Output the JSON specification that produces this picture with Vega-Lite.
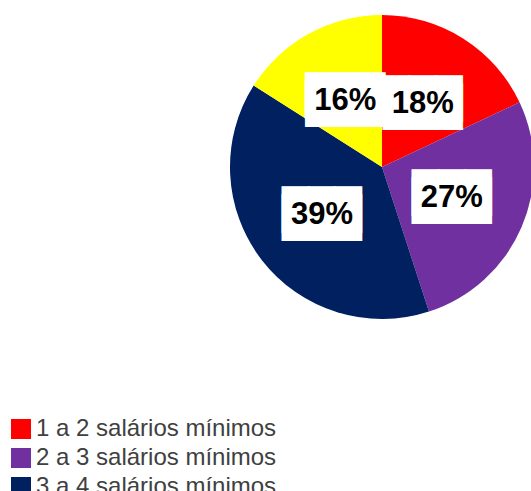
{
  "$schema": "https://vega.github.io/schema/vega-lite/v6.json",
  "width": 304,
  "height": 304,
  "autosize": {"type": "none"},
  "padding": {"left": 230, "top": 15, "right": 0, "bottom": 172},
  "background": "white",
  "config": {"view": {"stroke": null}},
  "data": {
    "values": [
      {"cat": "1 a 2 salários mínimos", "pct": 0.18, "o": 1},
      {"cat": "2 a 3 salários mínimos", "pct": 0.27, "o": 2},
      {"cat": "3 a 4 salários mínimos", "pct": 0.39, "o": 3},
      {"cat": "Mais de 4 salários mínimos", "pct": 0.16, "o": 4}
    ]
  },
  "encoding": {
    "theta": {"field": "pct", "type": "quantitative", "stack": true},
    "order": {"field": "o", "type": "quantitative"}
  },
  "layer": [
    {
      "mark": {"type": "arc", "outerRadius": 152},
      "encoding": {
        "color": {
          "field": "cat",
          "type": "nominal",
          "sort": ["1 a 2 salários mínimos", "2 a 3 salários mínimos", "3 a 4 salários mínimos", "Mais de 4 salários mínimos"],
          "scale": {"range": ["#FF0000", "#7030A0", "#002060", "#FFFF00"]},
          "legend": {
            "title": null,
            "orient": "none",
            "legendX": -221,
            "legendY": 402,
            "symbolType": "square",
            "symbolSize": 400,
            "symbolStrokeWidth": 0,
            "symbolOpacity": 1,
            "labelFontSize": 24,
            "labelFont": "Liberation Sans",
            "labelColor": "#404040",
            "labelOffset": 3,
            "labelLimit": 400,
            "rowPadding": 5
          }
        }
      }
    },
    {
      "mark": {"type": "text", "radius": 76, "text": "███", "font": "Liberation Sans", "fontSize": 37, "color": "white", "stroke": "white", "strokeWidth": 2, "dy": -4, "baseline": "middle", "align": "center"}
    },
    {
      "mark": {"type": "text", "radius": 76, "text": "███", "font": "Liberation Sans", "fontSize": 37, "color": "white", "stroke": "white", "strokeWidth": 2, "dy": 4, "baseline": "middle", "align": "center"}
    },
    {
      "mark": {"type": "text", "radius": 76, "font": "Liberation Sans", "fontWeight": "bold", "fontSize": 31, "color": "black", "baseline": "middle", "align": "center", "dy": 1},
      "encoding": {"text": {"field": "pct", "type": "quantitative", "format": ".0%"}}
    }
  ]
}
